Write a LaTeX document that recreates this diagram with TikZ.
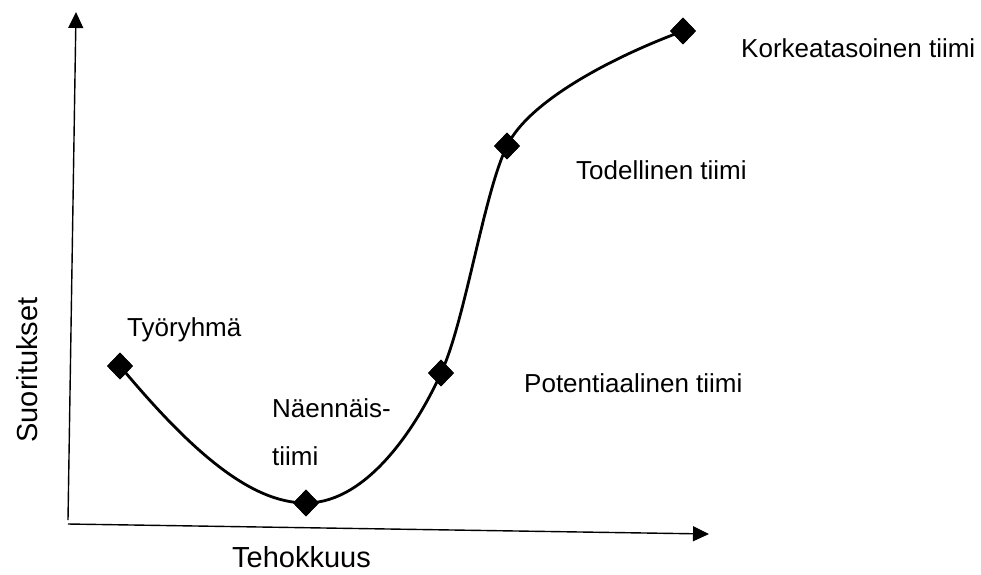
\documentclass[tikz,border=0pt]{standalone}
\usepackage{fontspec}
\setmainfont{Liberation Sans}
\usetikzlibrary{shapes.geometric,arrows.meta}
\begin{document}
\begin{tikzpicture}[x=1pt,y=-1pt,
  axis/.style={line width=1.4pt,-{Triangle[length=16pt,width=15pt]}},
  curve/.style={line width=2.8pt},
  marker/.style={diamond,fill=black,inner sep=0pt,minimum width=26pt,minimum height=27pt},
  lab/.style={anchor=base west,inner sep=0pt,font=\fontsize{26}{31}\selectfont},
  axlab/.style={inner sep=0pt,font=\fontsize{29}{34}\selectfont}]
\useasboundingbox (0,0) rectangle (981,574);
% axes
\coordinate (yb) at (68,520);
\coordinate (yt) at (76,12);
\coordinate (xl) at (68,524);
\coordinate (xr) at (709,534);
\draw[axis] (yb) -- (yt);
\draw[axis] (xl) -- (xr);
% markers
\node[marker] (m1) at (120,366) {};
\node[marker] (m2) at (306,503) {};
\node[marker] (m3) at (441,373) {};
\node[marker] (m4) at (507,146) {};
\node[marker] (m5) at (683,31) {};
% curve
\draw[curve] (m1.center) .. controls (190,450) and (250,503) .. (m2.center)
  .. controls (370,503) and (420,420) .. (m3.center)
  .. controls (465,322) and (484,192) .. (m4.center)
  .. controls (528,102) and (610,58) .. (m5.center);
\node[marker] at (m1) {};
\node[marker] at (m2) {};
\node[marker] at (m3) {};
\node[marker] at (m4) {};
\node[marker] at (m5) {};
% labels
\node[lab] (l5) at (741,57) {Korkeatasoinen tiimi};
\node[lab] (l4) at (576,179) {Todellinen tiimi};
\node[lab] (l3) at (524,392) {Potentiaalinen tiimi};
\node[lab] (l1) at (127,336) {Työryhmä};
\node[lab] (l2a) at (272,417) {Näennäis-};
\node[lab] (l2b) at (272,465) {tiimi};
\node[axlab,anchor=base west] (xlab) at (232,567) {Tehokkuus};
\node[axlab,anchor=base,rotate=90] (ylab) at (37,370) {Suoritukset};
\end{tikzpicture}
\end{document}
